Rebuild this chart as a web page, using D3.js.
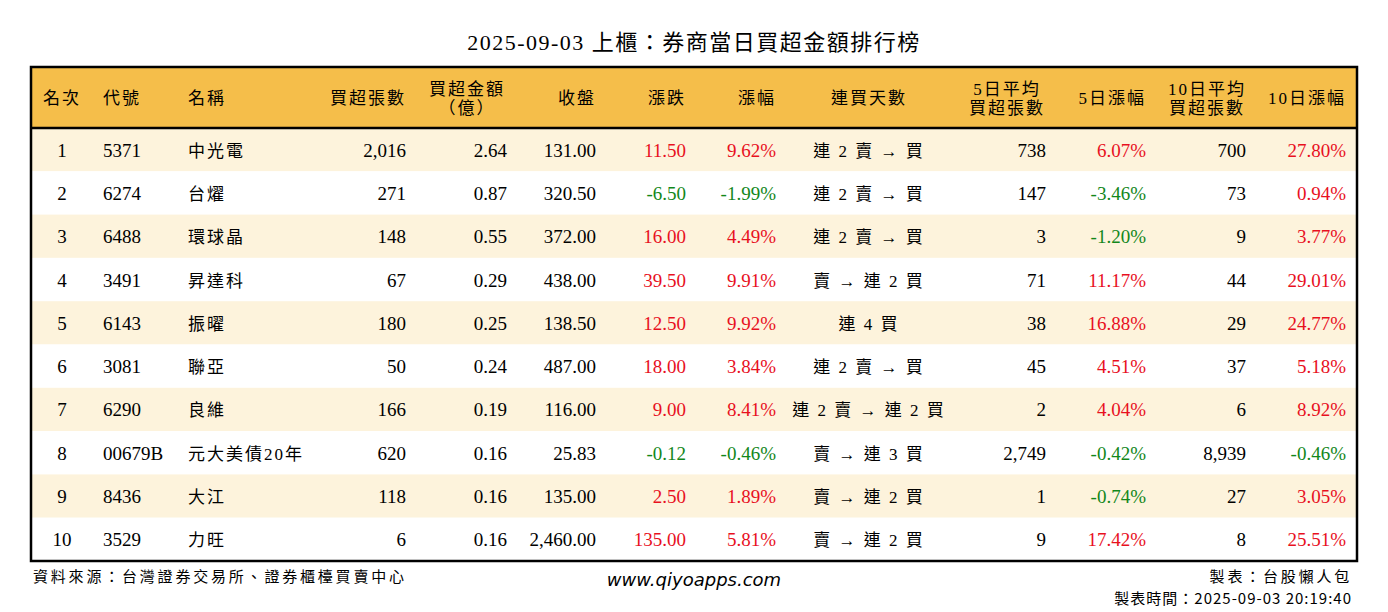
<!DOCTYPE html><html><head><meta charset="utf-8">
<script src="https://cdn.jsdelivr.net/npm/d3@7"></script>
<style>body{margin:0;background:#fff}</style></head><body>
<svg id="c" width="1388" height="612"></svg>
<script>
const ranks=[1,2,3,4,5,6,7,8,9,10];
const codes=["5371","6274","6488","3491","6143","3081","6290","00679B","8436","3529"];
const names=["中光電","台燿","環球晶","昇達科","振曜","聯亞","良維","元大美債20年","大江","力旺"];
const netLots=[2016,271,148,67,180,50,166,620,118,6];
const netAmt=[2.64,0.87,0.55,0.29,0.25,0.24,0.19,0.16,0.16,0.16];
const closes=[131,320.5,372,438,138.5,487,116,25.83,135,2460];
const changes=[11.5,-6.5,16,39.5,12.5,18,9,-0.12,2.5,135];
const pcts=[9.62,-1.99,4.49,9.91,9.92,3.84,8.41,-0.46,1.89,5.81];
const streaks=["連 2 賣 → 買","連 2 賣 → 買","連 2 賣 → 買","賣 → 連 2 買","連 4 買","連 2 賣 → 買","連 2 賣 → 連 2 買","賣 → 連 3 買","賣 → 連 2 買","賣 → 連 2 買"];
const avg5=[738,147,3,71,38,45,2,2749,1,9];
const pct5=[6.07,-3.46,-1.20,11.17,16.88,4.51,4.04,-0.42,-0.74,17.42];
const avg10=[700,73,9,44,29,37,6,8939,27,8];
const pct10=[27.80,0.94,3.77,29.01,24.77,5.18,8.92,-0.46,3.05,25.51];
const headers=[["名次"],["代號"],["名稱"],["買超張數"],["買超金額","（億）"],["收盤"],["漲跌"],["漲幅"],["連買天數"],["5日平均","買超張數"],["5日漲幅"],["10日平均","買超張數"],["10日漲幅"]];

const svg=d3.select("#c");
const F="'Liberation Serif','Noto Sans CJK TC',serif";
const RED="#e8101e",GRN="#12871a";
const L=31,R=1357,T=67,HB=128,B=561;
const y=d3.scaleBand().domain(d3.range(10)).range([HB,B]);
const cols=[
 {x:62,a:"middle",hx:62,ha:"middle"},
 {x:103,a:"start",hx:103,ha:"start"},
 {x:188,a:"start",hx:188,ha:"start"},
 {x:406,a:"end",hx:406,ha:"end"},
 {x:507,a:"end",hx:467,ha:"middle"},
 {x:596,a:"end",hx:596,ha:"end"},
 {x:686,a:"end",hx:686,ha:"end"},
 {x:776,a:"end",hx:776,ha:"end"},
 {x:869,a:"middle",hx:869,ha:"middle"},
 {x:1046,a:"end",hx:1007,ha:"middle"},
 {x:1146,a:"end",hx:1146,ha:"end"},
 {x:1246,a:"end",hx:1207,ha:"middle"},
 {x:1346,a:"end",hx:1346,ha:"end"}];
svg.append("text").attr("x",694).attr("y",50).attr("text-anchor","middle").attr("font-family",F).attr("font-size",22).attr("letter-spacing",1.5).text("2025-09-03 上櫃：券商當日買超金額排行榜");
svg.append("rect").attr("x",L).attr("y",T).attr("width",R-L).attr("height",HB-T).attr("fill","#f5be4a");
d3.range(10).forEach(i=>svg.append("rect").attr("x",L).attr("y",y(i)).attr("width",R-L).attr("height",y.bandwidth()).attr("fill",i%2?"#ffffff":"#fdf3dc"));
headers.forEach((h,j)=>{
 const t=svg.append("text").attr("text-anchor",cols[j].ha).attr("font-family",F).attr("font-size",17).attr("letter-spacing",2);
 if(h.length==1) t.append("tspan").attr("x",cols[j].hx).attr("y",104).text(h[0]);
 else {t.append("tspan").attr("x",cols[j].hx).attr("y",95).text(h[0]);t.append("tspan").attr("x",cols[j].hx).attr("y",114).text(h[1]);}
});
const fmtI=d3.format(","),f2=d3.format(",.2f");
const sc=v=>v<0?GRN:RED;
d3.range(10).forEach(i=>{
 const vals=[[ranks[i]],[codes[i]],[names[i]],[fmtI(netLots[i])],[netAmt[i].toFixed(2)],[f2(closes[i])],[changes[i].toFixed(2),sc(changes[i])],[pcts[i].toFixed(2)+"%",sc(pcts[i])],[streaks[i]],[fmtI(avg5[i])],[pct5[i].toFixed(2)+"%",sc(pct5[i])],[fmtI(avg10[i])],[pct10[i].toFixed(2)+"%",sc(pct10[i])]];
 vals.forEach((v,j)=>svg.append("text").attr("x",cols[j].x).attr("y",y(i)+y.bandwidth()/2+7).attr("text-anchor",cols[j].a).attr("font-family",F).attr("font-size",(j==2||j==8)?17:19).attr("letter-spacing",(j==2||j==8)?2:0).attr("fill",v[1]||"#000").text(v[0]));
});
svg.append("line").attr("x1",L).attr("x2",R).attr("y1",HB).attr("y2",HB).attr("stroke","#000").attr("stroke-width",2.5);
svg.append("rect").attr("x",L).attr("y",T).attr("width",R-L).attr("height",B-T).attr("fill","none").attr("stroke","#000").attr("stroke-width",2.5);
const S="'Noto Sans CJK TC',sans-serif";
svg.append("text").attr("x",33).attr("y",582).attr("font-family",S).attr("font-size",15).attr("letter-spacing",2.8).text("資料來源：台灣證券交易所、證券櫃檯買賣中心");
svg.append("text").attr("x",694).attr("y",586).attr("text-anchor","middle").attr("font-family","'DejaVu Sans',sans-serif").attr("font-style","italic").attr("font-size",18).text("www.qiyoapps.com");
svg.append("text").attr("x",1352).attr("y",582).attr("text-anchor","end").attr("font-family",S).attr("font-size",15).attr("letter-spacing",2.8).text("製表：台股懶人包");
svg.append("text").attr("x",1352).attr("y",604).attr("text-anchor","end").attr("font-family",S).attr("font-size",15).attr("letter-spacing",1).text("製表時間：2025-09-03 20:19:40");
</script></body></html>
